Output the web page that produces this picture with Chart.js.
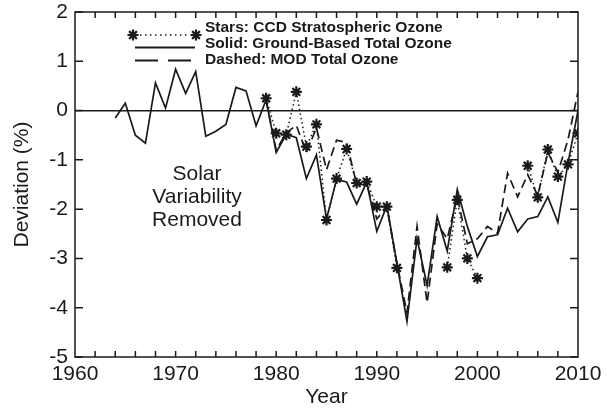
<!DOCTYPE html>
<html><head><meta charset="utf-8">
<script src="https://cdn.jsdelivr.net/npm/chart.js@4/dist/chart.umd.min.js"></script>
<style>html,body{margin:0;padding:0;background:#fff}</style>
</head><body>
<canvas id="c" width="607" height="410" style="width:607px;height:410px;display:block"></canvas>
<script>
// ---- data ----
const groundYears = [1964,1965,1966,1967,1968,1969,1970,1971,1972,1973,1974,1975,1976,1977,1978,1979,1980,1981,1982,1983,1984,1985,1986,1987,1988,1989,1990,1991,1992,1993,1994,1995,1996,1997,1998,1999,2000,2001,2002,2003,2004,2005,2006,2007,2008,2009,2010];
const groundValues = [-0.15,0.15,-0.5,-0.66,0.56,0.05,0.84,0.35,0.79,-0.52,-0.42,-0.28,0.47,0.40,-0.31,0.22,-0.85,-0.48,-0.55,-1.38,-0.9,-2.2,-1.4,-1.45,-1.9,-1.45,-2.45,-1.93,-3.1,-4.28,-2.6,-3.55,-2.15,-2.85,-1.6,-2.35,-2.96,-2.56,-2.52,-1.98,-2.46,-2.2,-2.15,-1.75,-2.27,-1.07,0.0];

const satYears = [1979,1980,1981,1982,1983,1984,1985,1986,1987,1988,1989,1990,1991,1992,1993,1994,1995,1996,1997,1998,1999,2000,2001,2002,2003,2004,2005,2006,2007,2008,2009,2010];
const modValues = [0.2,-0.8,-0.45,-0.3,-0.85,-0.35,-1.2,-0.6,-0.65,-1.5,-1.5,-2.2,-1.95,-3.1,-4.1,-2.35,-3.9,-2.3,-2.6,-1.75,-2.7,-2.6,-2.35,-2.49,-1.27,-1.75,-1.3,-1.73,-0.85,-1.25,-0.6,0.38];
const ccdValues = [0.25,-0.46,-0.49,0.38,-0.73,-0.28,-2.22,-1.38,-0.78,-1.47,-1.44,-1.95,-1.95,-3.19,null,null,null,null,-3.18,-1.81,-3.0,-3.4,null,null,null,null,-1.12,-1.76,-0.79,-1.34,-1.09,-0.46];

const xTickLabels = [1960,1970,1980,1990,2000,2010];
const yTickValues = [2,1,0,-1,-2,-3,-4,-5];
const xMinorTicks = [1962,1964,1966,1968,1970,1972,1974,1976,1978,1980,1982,1984,1986,1988,1990,1992,1994,1996,1998,2000,2002,2004,2006,2008];
const legendTexts = ['Stars: CCD Stratospheric Ozone','Solid: Ground-Based Total Ozone','Dashed: MOD Total Ozone'];
const noteLines = ['Solar','Variability','Removed'];

const INK = '#1a1a1a';
const FONT = '"Liberation Sans", Arial, Helvetica, sans-serif';
const pts = (xs, ys) => xs.map((x, i) => ({x, y: ys[i]}));

function drawStar(ctx, cx, cy, r) {
  ctx.beginPath();
  ctx.moveTo(cx - r, cy); ctx.lineTo(cx + r, cy);
  ctx.moveTo(cx, cy - r); ctx.lineTo(cx, cy + r);
  const d = r * Math.SQRT1_2;
  ctx.moveTo(cx - d, cy - d); ctx.lineTo(cx + d, cy + d);
  ctx.moveTo(cx - d, cy + d); ctx.lineTo(cx + d, cy - d);
  ctx.stroke();
}

const framePlugin = {
  id: 'frame',
  afterDraw(chart) {
    const {ctx, chartArea: a, scales: {x, y}} = chart;
    ctx.save();
    ctx.strokeStyle = INK; ctx.lineWidth = 1.5; ctx.setLineDash([]);
    ctx.strokeRect(a.left, a.top, a.right - a.left, a.bottom - a.top);
    ctx.beginPath();
    yTickValues.forEach(v => {
      const py = y.getPixelForValue(v);
      ctx.moveTo(a.left, py); ctx.lineTo(a.left + 8, py);
      ctx.moveTo(a.right, py); ctx.lineTo(a.right - 8, py);
    });
    xMinorTicks.forEach(v => {
      const px = x.getPixelForValue(v);
      ctx.moveTo(px, a.bottom); ctx.lineTo(px, a.bottom - 6);
      ctx.moveTo(px, a.top); ctx.lineTo(px, a.top + 6);
    });
    ctx.stroke();

    // legend
    ctx.fillStyle = INK;
    ctx.font = 'bold 15.5px ' + FONT;
    ctx.textBaseline = 'middle'; ctx.textAlign = 'left';
    ctx.fillText(legendTexts[0], 205, 28);
    ctx.fillText(legendTexts[1], 205, 44);
    ctx.fillText(legendTexts[2], 205, 60);
    ctx.lineWidth = 2.2;
    drawStar(ctx, 133, 35, 5.5); drawStar(ctx, 196, 35, 5.5);
    ctx.lineWidth = 1.5; ctx.setLineDash([1.5, 3.5]);
    ctx.beginPath(); ctx.moveTo(140, 35); ctx.lineTo(190, 35); ctx.stroke();
    ctx.setLineDash([]); ctx.lineWidth = 2;
    ctx.beginPath(); ctx.moveTo(135, 47.5); ctx.lineTo(195, 47.5); ctx.stroke();
    ctx.beginPath(); ctx.moveTo(135, 60.5); ctx.lineTo(158, 60.5);
    ctx.moveTo(168, 60.5); ctx.lineTo(191, 60.5); ctx.stroke();

    // annotation
    ctx.font = '21px ' + FONT; ctx.textAlign = 'center';
    ctx.fillText(noteLines[0], 197, 174);
    ctx.fillText(noteLines[1], 197, 197);
    ctx.fillText(noteLines[2], 197, 220);
    ctx.restore();
  }
};

new Chart(document.getElementById('c'), {
  type: 'line',
  data: {
    datasets: [
      {label: 'Ground', data: pts(groundYears, groundValues), borderColor: INK, borderWidth: 1.7, pointRadius: 0, tension: 0},
      {label: 'MOD', data: pts(satYears, modValues), borderColor: INK, borderWidth: 1.7, borderDash: [9, 5], pointRadius: 0, tension: 0},
      {label: 'CCD', data: pts(satYears, ccdValues), borderColor: INK, borderWidth: 1.5, borderDash: [1.5, 3], spanGaps: false,
       pointStyle: 'star', pointRadius: 5.5, pointBorderWidth: 2.2, pointBorderColor: INK, pointBackgroundColor: INK, tension: 0}
    ]
  },
  options: {
    responsive: false, animation: false,
    layout: {padding: {top: 12, right: 29, left: 0, bottom: 0}},
    plugins: {legend: {display: false}, tooltip: {enabled: false}},
    scales: {
      x: {
        type: 'linear', min: 1960, max: 2010,
        afterFit: s => { s.height = 53; s.paddingLeft = 0; s.paddingRight = 0; },
        afterBuildTicks: s => { s.ticks = xTickLabels.map(v => ({value: v})); },
        ticks: {callback: v => String(v), color: INK, font: {family: FONT, size: 21}, padding: 5, maxRotation: 0, autoSkip: false},
        grid: {display: false, drawTicks: false},
        border: {display: false},
        title: {display: true, text: 'Year', color: INK, font: {family: FONT, size: 21}, padding: {top: 0, bottom: 0}}
      },
      y: {
        min: -5, max: 2,
        afterFit: s => { s.width = 75; s.paddingTop = 0; s.paddingBottom = 0; },
        afterBuildTicks: s => { s.ticks = yTickValues.map(v => ({value: v})); },
        ticks: {callback: v => String(v), color: INK, font: {family: FONT, size: 21}, padding: 7},
        grid: {drawTicks: false, lineWidth: 1.5, color: c => (c.tick && c.tick.value === 0) ? INK : 'rgba(0,0,0,0)'},
        border: {display: false},
        title: {display: true, text: 'Deviation (%)', color: INK, font: {family: FONT, size: 21}, padding: {top: 10, bottom: 0}}
      }
    }
  },
  plugins: [framePlugin]
});
</script>
</body></html>
